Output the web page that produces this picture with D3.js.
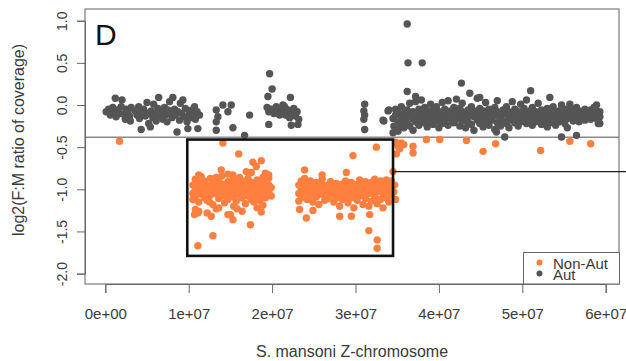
<!DOCTYPE html>
<html><head><meta charset="utf-8">
<script src="https://cdn.jsdelivr.net/npm/d3@7"></script>
<style>
html,body{margin:0;padding:0;background:#fff;}
svg{display:block;font-family:"Liberation Sans",Arial,sans-serif;}
</style></head>
<body><svg id="c" width="626" height="361"></svg>
<script>
// ---- data (positions in Mb, values = log2 F:M coverage ratio) ----
const panelLabel = "D";
const xTicks = [0, 1e7, 2e7, 3e7, 4e7, 5e7, 6e7];
const xTickLabels = ["0e+00","1e+07","2e+07","3e+07","4e+07","5e+07","6e+07"];
const yTicks = [-2, -1.5, -1, -0.5, 0, 0.5, 1];
const yTickLabels = ["-2.0","-1.5","-1.0","-0.5","0.0","0.5","1.0"];
const xTitle = "S. mansoni Z-chromosome";
const yTitle = "log2(F:M ratio of coverage)";
const legendLabels = ["Non-Aut", "Aut"];
const thresholdValue = -0.383;
const boxRegion = [9.83e6, 34.5e6, -0.41, -1.79]; // x0, x1, yTop, yBottom
const connectorValue = -0.79;

const autPoints = [
[0.1,-0.08],[0.4,-0.05],[0.6,-0.12],[0.9,-0.03],[1.1,-0.09],[1.3,-0.14],[1.2,0.08],[1.5,-0.06],[1.7,-0.1],[1.9,-0.02],[2.0,0.06],[2.2,-0.11],[2.4,-0.17],[2.5,-0.05],[2.7,-0.08],[2.9,-0.13],[3.0,-0.19],[3.1,-0.03],
[3.6,-0.07],[3.8,-0.12],[4.0,-0.02],[4.1,-0.16],[4.3,-0.29],[4.4,-0.09],[4.6,-0.05],[4.8,-0.13],[5.0,0.03],[5.1,-0.1],[5.2,-0.22],[5.4,-0.26],[5.5,-0.07],[5.7,-0.15],[5.8,0.01],[6.0,-0.11],[6.1,-0.19],[6.3,-0.04],[6.4,0.09],[6.6,-0.13],[6.8,-0.08],[6.9,-0.17],[7.1,-0.03],[7.2,-0.12],[7.4,-0.2],[7.5,-0.06],[7.7,0.04],[7.8,-0.1],[8.0,-0.15],[8.1,0.09],[8.3,-0.05],[8.4,-0.12],[8.6,-0.32],[8.7,-0.08],[8.9,-0.18],[9.0,0.02],[9.2,-0.1],[9.3,0.06],[9.5,-0.14],[9.6,-0.04],[9.8,-0.2],[9.9,-0.28],[10.1,-0.09],[10.2,-0.15],[10.4,-0.06],[10.5,-0.11],[10.7,-0.02],[10.8,-0.17],[11.0,-0.08],[11.1,-0.28],[11.3,-0.12],
[14.1,0.0],[15.1,0.0],[13.3,-0.06],[14.7,-0.08],[13.5,-0.14],[13.3,-0.2],[15.3,-0.27],[13.3,-0.3],[16.7,-0.36],[17.3,-0.12],
[19.7,0.37],[20.0,0.19],[19.5,0.1],[22.2,0.09],[19.6,-0.23],[22.3,-0.24],[23.1,-0.23],
[19.4,-0.03],[19.6,-0.08],[19.9,-0.05],[20.2,-0.1],[20.5,-0.02],[20.7,-0.07],[21.0,-0.04],[21.2,-0.09],[21.5,-0.02],[21.6,-0.12],[21.9,-0.06],[22.1,-0.15],[22.4,-0.1],[22.6,-0.04],[22.8,-0.13],[23.0,-0.08],[23.2,-0.17],[21.3,0.0],[20.9,-0.12],
[31.1,0.01],[31.0,-0.07],[31.1,-0.12],[31.0,-0.17],[31.1,-0.29],[34.0,-0.06],[33.4,-0.19],[34.5,-0.16],[34.6,-0.25],[34.5,-0.33],[33.3,-0.18],[33.9,-0.07],
[36.2,0.96],[36.3,0.5],[38.0,0.5],[42.7,0.26],[36.2,0.16],[37.2,0.1],[43.7,0.14],[44.9,0.09],[51.0,0.17],[53.3,0.09],[55.7,0.01],[58.9,0.0],[59.1,-0.22],[54.7,-0.38],[56.5,-0.36],[47.9,-0.38],[36.9,-0.3],[46.9,-0.32],
[34.8,-0.12],[34.8,-0.28],[34.8,-0.05],[35.1,-0.2],[35.1,-0.09],[35.1,-0.31],[35.5,-0.15],[35.5,-0.02],[35.5,-0.24],[35.8,-0.1],[35.8,-0.19],[35.8,-0.27],
[36.2,-0.06],[36.2,-0.14],[36.2,-0.22],[36.5,-0.12],[36.5,0.02],[36.5,-0.25],[36.9,-0.08],[36.9,-0.17],[37.2,-0.11],[37.2,0.04],[37.2,-0.2],
[37.6,-0.14],[37.6,-0.05],[37.6,-0.24],[37.9,-0.09],[37.9,-0.18],[37.9,0.06],[38.3,-0.13],[38.3,-0.03],[38.3,-0.21],[38.6,-0.07],[38.6,-0.16],[38.6,-0.26],
[39.0,-0.1],[39.0,-0.2],[39.0,0.01],[39.3,-0.15],[39.3,-0.06],[39.3,-0.23],[39.7,-0.12],[39.7,-0.02],[39.7,-0.19],[40.0,-0.08],[40.0,-0.17],[40.0,-0.27],
[40.4,-0.13],[40.4,0.03],[40.4,-0.22],[40.7,-0.1],[40.7,-0.18],[40.7,-0.05],[41.1,-0.14],[41.1,-0.24],[41.1,0.05],[41.4,-0.07],[41.4,-0.16],[41.4,-0.11],
[41.8,-0.12],[41.8,-0.21],[41.8,-0.03],[42.1,-0.09],[42.1,-0.17],[42.1,0.07],[42.5,-0.13],[42.5,-0.04],[42.5,-0.25],[42.8,-0.08],[42.8,-0.19],[42.8,0.02],
[43.2,-0.11],[43.2,-0.15],[43.2,-0.27],[43.5,-0.06],[43.5,-0.2],[43.5,-0.13],[43.9,-0.1],[43.9,-0.02],[43.9,-0.23],[44.2,-0.14],[44.2,-0.07],[44.2,-0.3],
[44.6,-0.09],[44.6,-0.18],[44.6,0.08],[44.9,-0.12],[44.9,-0.04],[44.9,-0.22],[45.3,-0.07],[45.3,-0.16],[45.3,-0.26],[45.6,-0.11],[45.6,-0.2],[45.6,0.03],
[46.0,-0.14],[46.0,-0.05],[46.0,-0.24],[46.3,-0.09],[46.3,-0.18],[46.3,-0.12],[46.7,-0.13],[46.7,-0.03],[46.7,-0.29],[47.0,-0.08],[47.0,-0.21],[47.0,0.05],
[47.4,-0.12],[47.4,-0.15],[47.4,-0.25],[47.7,-0.06],[47.7,-0.19],[47.7,-0.1],[48.1,-0.11],[48.1,-0.02],[48.1,-0.22],[48.4,-0.15],[48.4,-0.08],[48.4,-0.27],
[48.8,-0.1],[48.8,-0.18],[48.8,0.04],[49.1,-0.13],[49.1,-0.05],[49.1,-0.21],[49.5,-0.08],[49.5,-0.16],[49.5,-0.25],[49.8,-0.12],[49.8,-0.2],[49.8,0.01],
[50.2,-0.1],[50.2,-0.04],[50.2,-0.17],[50.5,-0.14],[50.5,-0.22],[50.5,0.06],[50.9,-0.07],[50.9,-0.12],[50.9,-0.19],[51.2,-0.11],[51.2,-0.03],[51.2,-0.24],
[51.6,-0.15],[51.6,-0.08],[51.6,-0.2],[51.9,-0.09],[51.9,-0.17],[51.9,0.02],[52.3,-0.12],[52.3,-0.06],[52.3,-0.23],[52.6,-0.1],[52.6,-0.19],[52.6,-0.14],
[53.0,-0.13],[53.0,-0.04],[53.0,-0.26],[53.3,-0.08],[53.3,-0.16],[53.3,-0.21],[53.7,-0.12],[53.7,-0.02],[53.7,-0.19],[54.0,-0.1],[54.0,-0.15],[54.0,-0.24],
[54.4,-0.14],[54.4,-0.07],[54.4,-0.2],[54.7,-0.09],[54.7,-0.18],[54.7,0.0],[55.1,-0.13],[55.1,-0.05],[55.1,-0.22],[55.4,-0.11],[55.4,-0.16],[55.4,-0.27],
[55.8,-0.08],[55.8,-0.14],[55.8,-0.04],[56.1,-0.12],[56.1,-0.19],[56.1,-0.09],[56.5,-0.1],[56.5,-0.15],[56.5,-0.03],[56.8,-0.13],[56.8,-0.07],[56.8,-0.2],
[57.2,-0.09],[57.2,-0.16],[57.2,-0.11],[57.5,-0.12],[57.5,-0.05],[57.5,-0.18],[57.9,-0.1],[57.9,-0.14],[57.9,-0.08],[58.2,-0.13],[58.2,-0.06],[58.2,-0.17],
[58.6,-0.09],[58.6,-0.12],[58.6,-0.03],[58.9,-0.11],[58.9,-0.16],[58.9,-0.07],[59.3,-0.08],[59.3,-0.14],[59.3,-0.22]
];

const nonAutPoints = [
[1.7,-0.43],
[10.5,-0.95],[10.5,-1.05],[10.5,-1.12],[10.8,-0.88],[10.8,-1.0],[10.8,-1.08],[10.8,-1.24],[11.2,-0.93],[11.2,-1.02],[11.2,-1.15],[11.2,-1.26],
[11.5,-0.97],[11.5,-1.06],[11.5,-0.85],[11.9,-0.9],[11.9,-1.01],[11.9,-1.1],[12.2,-0.95],[12.2,-1.04],[12.2,-1.13],[12.2,-1.28],
[12.6,-0.87],[12.6,-0.99],[12.6,-1.07],[12.9,-0.92],[12.9,-1.02],[12.9,-1.18],[13.3,-0.96],[13.3,-1.05],[13.3,-0.86],
[13.6,-0.9],[13.6,-1.0],[13.6,-1.11],[13.6,-1.22],[14.0,-0.94],[14.0,-1.03],[14.0,-0.84],[14.3,-0.98],[14.3,-1.08],[14.3,-1.16],
[14.7,-0.91],[14.7,-1.01],[14.7,-1.12],[14.7,-0.82],[15.0,-0.95],[15.0,-1.04],[15.0,-1.3],[15.4,-0.88],[15.4,-0.99],[15.4,-1.09],[15.4,-1.2],
[15.7,-0.93],[15.7,-1.02],[15.7,-1.14],[16.1,-0.97],[16.1,-1.06],[16.1,-0.86],[16.4,-0.9],[16.4,-1.0],[16.4,-1.1],[16.4,-1.26],
[16.8,-0.94],[16.8,-1.03],[16.8,-1.17],[17.1,-0.87],[17.1,-0.98],[17.1,-1.08],[17.5,-0.92],[17.5,-1.01],[17.5,-1.12],[17.5,-0.8],
[17.8,-0.96],[17.8,-1.05],[17.8,-1.15],[18.2,-0.89],[18.2,-0.99],[18.2,-1.09],[18.2,-1.22],[18.5,-0.93],[18.5,-1.03],[18.5,-1.13],
[18.9,-0.86],[18.9,-0.97],[18.9,-1.06],[18.9,-1.19],[19.2,-0.91],[19.2,-1.01],[19.2,-1.1],[19.6,-0.95],[19.6,-1.04],[19.6,-0.83],[19.9,-0.98],[19.9,-1.08],
[14.1,-0.45],[16.0,-0.58],[17.7,-0.68],[18.7,-0.66],[18.1,-0.73],[16.9,-0.79],[19.2,-0.81],[19.6,-0.87],[11.2,-0.83],[13.9,-0.77],[15.3,-0.83],
[11.1,-1.28],[10.7,-1.3],[12.7,-1.32],[14.7,-1.3],[15.3,-1.36],[17.4,-1.42],[18.7,-1.27],[12.9,-1.55],[11.1,-1.67],[15.8,-1.23],[13.3,-1.23],[12.5,-1.15],
[23.2,-0.95],[23.2,-1.05],[23.2,-1.14],[23.5,-0.9],[23.5,-1.0],[23.5,-1.1],[23.9,-0.96],[23.9,-1.04],[23.9,-0.87],[24.2,-0.93],[24.2,-1.02],[24.2,-1.12],
[24.6,-0.98],[24.6,-1.07],[24.6,-0.9],[24.9,-0.95],[24.9,-1.03],[24.9,-1.15],[25.3,-0.92],[25.3,-1.01],[25.3,-1.09],[25.6,-0.97],[25.6,-1.06],[25.6,-1.18],
[26.0,-0.94],[26.0,-1.03],[26.0,-0.88],[26.3,-0.99],[26.3,-1.08],[26.3,-1.13],[26.7,-0.95],[26.7,-1.02],[26.7,-1.11],[27.0,-1.0],[27.0,-1.07],[27.0,-0.91],
[27.4,-0.96],[27.4,-1.04],[27.4,-1.15],[27.7,-1.01],[27.7,-1.1],[27.7,-0.93],[28.1,-0.97],[28.1,-1.05],[28.1,-1.2],[28.4,-0.94],[28.4,-1.03],[28.4,-1.12],
[28.8,-0.99],[28.8,-1.08],[28.8,-0.9],[29.1,-0.95],[29.1,-1.04],[29.1,-1.16],[29.5,-0.92],[29.5,-1.01],[29.5,-1.1],[29.8,-0.97],[29.8,-1.06],[29.8,-1.22],
[30.2,-0.94],[30.2,-1.02],[30.2,-1.13],[30.5,-0.89],[30.5,-0.99],[30.5,-1.08],[30.9,-0.95],[30.9,-1.04],[30.9,-1.18],[31.2,-0.91],[31.2,-1.0],[31.2,-1.11],
[31.6,-0.96],[31.6,-1.05],[31.6,-1.2],[31.9,-0.92],[31.9,-1.02],[31.9,-1.14],[32.3,-0.88],[32.3,-0.98],[32.3,-1.09],[32.6,-0.94],[32.6,-1.03],[32.6,-1.17],
[33.0,-0.9],[33.0,-1.0],[33.0,-1.12],[33.3,-0.95],[33.3,-1.05],[33.3,-1.22],[33.7,-0.89],[33.7,-0.98],[33.7,-1.1],[34.0,-0.93],[34.0,-1.02],[34.0,-1.15],[34.3,-0.9],[34.3,-0.99],[34.3,-1.07],
[32.5,-0.5],[29.7,-0.6],[28.9,-0.8],[23.9,-0.77],[26.0,-0.83],[23.3,-1.24],[24.1,-1.34],[24.9,-1.25],[28.1,-1.32],[29.5,-1.32],[31.7,-1.3],[31.6,-1.49],[32.6,-1.6],[32.6,-1.7],
[34.5,-0.79],[34.7,-0.95],[34.6,-1.03],[34.8,-1.12],
[35.1,-0.49],[35.5,-0.45],[34.8,-0.44],[35.3,-0.52],[35.8,-0.47],[34.9,-0.58],[36.9,-0.49],[36.9,-0.57],[38.5,-0.41],[40.1,-0.41],[43.3,-0.42],[45.3,-0.55],[46.8,-0.46],[52.2,-0.54],[55.7,-0.43],[58.2,-0.46]
];

// ---- drawing ----
const svg = d3.select("#c");
const W = 626;
const x = d3.scaleLinear().domain([0, 6e7]).range([105.3, 605.7]);
const y = d3.scaleLinear().domain([-2, 1]).range([273.6, 20.7]);
const plot = {l: 85, t: 9, r: 619, b: 284};
const gray = "#555555", orange = "#FF7F3F", textCol = "#3a3a3a";
const R = 3.7;

// threshold line
svg.append("line").attr("x1", plot.l).attr("x2", plot.r)
  .attr("y1", y(thresholdValue)).attr("y2", y(thresholdValue))
  .attr("stroke", "#8a8a8a").attr("stroke-width", 1.6);

// points
svg.append("g").selectAll("circle").data(autPoints).join("circle")
  .attr("cx", d => x(d[0] * 1e6)).attr("cy", d => y(d[1])).attr("r", R).attr("fill", gray);
svg.append("g").selectAll("circle").data(nonAutPoints).join("circle")
  .attr("cx", d => x(d[0] * 1e6)).attr("cy", d => y(d[1])).attr("r", R).attr("fill", orange);

// plot box
svg.append("rect").attr("x", plot.l).attr("y", plot.t)
  .attr("width", plot.r - plot.l).attr("height", plot.b - plot.t)
  .attr("fill", "none").attr("stroke", "#7a7a7a").attr("stroke-width", 1.2);

// highlight box and connector
svg.append("rect").attr("x", x(boxRegion[0])).attr("y", y(boxRegion[2]))
  .attr("width", x(boxRegion[1]) - x(boxRegion[0])).attr("height", y(boxRegion[3]) - y(boxRegion[2]))
  .attr("fill", "none").attr("stroke", "#111").attr("stroke-width", 2.6);
svg.append("line").attr("x1", x(boxRegion[1])).attr("x2", W)
  .attr("y1", y(connectorValue)).attr("y2", y(connectorValue))
  .attr("stroke", "#222").attr("stroke-width", 1.4);

// y axis
const yAxis = d3.axisLeft(y).tickValues(yTicks).tickSize(8).tickPadding(0)
  .tickFormat((d, i) => yTickLabels[i]);
const gy = svg.append("g").attr("transform", `translate(${plot.l},0)`).call(yAxis);
gy.select(".domain").attr("stroke", "#666");
gy.selectAll(".tick line").attr("stroke", "#666");
gy.selectAll(".tick text").attr("transform", "rotate(-90)")
  .attr("x", 0).attr("y", -23).attr("dy", "0.35em").attr("text-anchor", "middle")
  .attr("font-size", 14).attr("fill", textCol).attr("font-family", "Liberation Sans, Arial, sans-serif");

// x axis
const xAxis = d3.axisBottom(x).tickValues(xTicks).tickSize(9).tickPadding(0)
  .tickFormat((d, i) => xTickLabels[i]);
const gx = svg.append("g").attr("transform", `translate(0,${plot.b})`).call(xAxis);
gx.select(".domain").attr("stroke", "#666");
gx.selectAll(".tick line").attr("stroke", "#666");
gx.selectAll(".tick text").attr("y", 35).attr("dy", 0)
  .attr("font-size", 15).attr("fill", textCol).attr("font-family", "Liberation Sans, Arial, sans-serif");

// titles
svg.append("text").attr("x", 352).attr("y", 357).attr("text-anchor", "middle")
  .attr("font-size", 16).attr("fill", textCol).text(xTitle);
svg.append("text").attr("transform", "translate(24,140) rotate(-90)").attr("text-anchor", "middle")
  .attr("font-size", 16).attr("fill", textCol).text(yTitle);

// panel label
svg.append("text").attr("x", 95).attr("y", 45).attr("font-size", 30).attr("fill", "#111").text(panelLabel);

// legend
const lg = svg.append("g");
lg.append("rect").attr("x", 523.5).attr("y", 252.5).attr("width", 96).attr("height", 31.5)
  .attr("fill", "#fff").attr("stroke", "#666").attr("stroke-width", 1);
const lcol = [orange, gray];
legendLabels.forEach((t, i) => {
  lg.append("circle").attr("cx", 539.5).attr("cy", 262.5 + i * 11).attr("r", 3).attr("fill", lcol[i]);
  lg.append("text").attr("x", 553).attr("y", 268.5 + i * 11).attr("font-size", 15)
    .attr("fill", textCol).text(t);
});
</script></body></html>
